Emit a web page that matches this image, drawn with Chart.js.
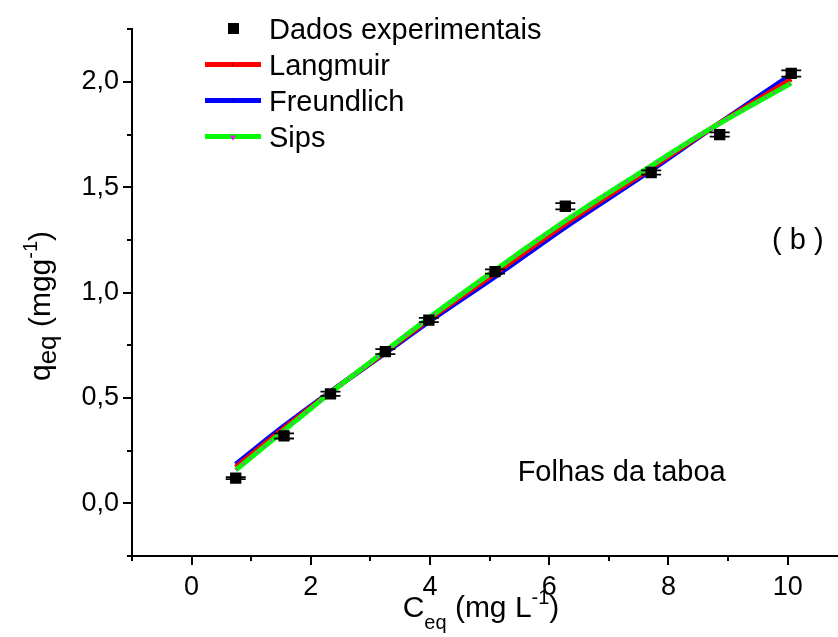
<!DOCTYPE html>
<html>
<head>
<meta charset="utf-8">
<script src="https://cdn.jsdelivr.net/npm/chart.js@4.4.0/dist/chart.umd.min.js"></script>
<style>
  html, body { margin: 0; padding: 0; background: #fff; overflow: hidden; }
  #wrap { width: 838px; height: 637px; overflow: hidden; position: relative; }
  canvas { display: block; }
</style>
</head>
<body>
<div id="wrap"><canvas id="c" width="838" height="637"></canvas></div>
<script>
// Experimental equilibrium data (C_eq in mg/L, q_eq in mg/g) with error
const ceqData = [0.74, 1.55, 2.33, 3.25, 3.98, 5.09, 6.27, 7.71, 8.86, 10.06];
const qeqData = [0.12, 0.32, 0.52, 0.72, 0.87, 1.10, 1.41, 1.57, 1.75, 2.04];
const qeqErr  = [0.005, 0.012, 0.01, 0.012, 0.01, 0.01, 0.015, 0.01, 0.01, 0.015];

// Fitted isotherm curves
const fitC        = [0.74, 1.55, 2.33, 3.25, 3.98, 5.09, 6.27, 7.71, 8.6, 10.06];
const langmuirQ   = [0.172, 0.357, 0.528, 0.719, 0.872, 1.091, 1.326, 1.591, 1.758, 2.013];
const freundlichQ = [0.186, 0.367, 0.530, 0.714, 0.862, 1.076, 1.311, 1.581, 1.755, 2.035];
const sipsQ       = [0.158, 0.346, 0.525, 0.724, 0.880, 1.107, 1.341, 1.602, 1.760, 1.994];

// Axis ticks (the x axis runs on past the right edge of the figure)
const xMin = -1, xMax = 10.71;
const xTicks = [-1, 0, 1, 2, 3, 4, 5, 6, 7, 8, 9, 10];
const xLabelTicks = [0, 2, 4, 6, 8, 10];
const yTicks = [-0.25, 0, 0.25, 0.5, 0.75, 1.0, 1.25, 1.5, 1.75, 2.0, 2.25];
const yLabelTicks = [0, 0.5, 1.0, 1.5, 2.0];

const seriesLabels = ['Dados experimentais', 'Langmuir', 'Freundlich', 'Sips'];
const FONT = "'Liberation Sans', Arial, sans-serif";

const pts = (xs, ys) => xs.map((x, i) => ({ x: x, y: ys[i] }));
const isIn = (arr, v) => arr.some(t => Math.abs(t - v) < 1e-6);

// Ticks drawn outward, long for labelled values and short otherwise;
// the bottom axis line is carried on to the edge of the canvas
const tickPlugin = {
  id: 'axisTicks',
  afterDraw(chart) {
    const ctx = chart.ctx, xs = chart.scales.x, ys = chart.scales.y;
    const area = chart.chartArea;
    ctx.save();
    ctx.strokeStyle = '#000';
    ctx.lineWidth = 2;
    ctx.beginPath();
    const yb = Math.round(area.bottom);
    ctx.moveTo(area.right - 1, yb);
    ctx.lineTo(chart.width, yb);
    xTicks.forEach(v => {
      const px = Math.round(xs.getPixelForValue(v));
      const len = isIn(xLabelTicks, v) ? 9 : 5;
      ctx.moveTo(px, area.bottom);
      ctx.lineTo(px, area.bottom + len);
    });
    yTicks.forEach(v => {
      const py = Math.round(ys.getPixelForValue(v));
      const len = isIn(yLabelTicks, v) ? 9 : 5;
      ctx.moveTo(area.left, py);
      ctx.lineTo(area.left - len, py);
    });
    ctx.stroke();
    ctx.restore();
  }
};

// Vertical error bars with caps on the experimental points
const errorBarPlugin = {
  id: 'errorBars',
  afterDatasetsDraw(chart) {
    const ctx = chart.ctx, xs = chart.scales.x, ys = chart.scales.y;
    ctx.save();
    ctx.strokeStyle = '#000';
    ctx.lineWidth = 1.8;
    ceqData.forEach((c, i) => {
      const px = xs.getPixelForValue(c);
      const top = ys.getPixelForValue(qeqData[i] + qeqErr[i]);
      const bot = ys.getPixelForValue(qeqData[i] - qeqErr[i]);
      ctx.beginPath();
      ctx.moveTo(px, top); ctx.lineTo(px, bot);
      ctx.moveTo(px - 10, top); ctx.lineTo(px + 10, top);
      ctx.moveTo(px - 10, bot); ctx.lineTo(px + 10, bot);
      ctx.stroke();
    });
    ctx.restore();
  }
};

// Legend in the upper-left corner of the plot, titles with sub/superscripts, and notes
const decorPlugin = {
  id: 'decor',
  afterDraw(chart) {
    const ctx = chart.ctx, xs = chart.scales.x, ys = chart.scales.y;
    ctx.save();
    ctx.fillStyle = '#000';
    ctx.textBaseline = 'alphabetic';

    // legend
    const lx0 = 205, lx1 = 261, tx = 269;
    const rows = [28.5, 64.5, 100.5, 136.5];
    const fs = 29;
    ctx.font = fs + 'px ' + FONT;
    // experimental points
    ctx.fillRect(228, rows[0] - 5.5, 11, 11);
    const lineColors = ['#ff0000', '#0000ff', '#00ff00'];
    for (let k = 0; k < 3; k++) {
      const y = rows[k + 1];
      ctx.strokeStyle = lineColors[k];
      ctx.lineWidth = 5;
      ctx.beginPath(); ctx.moveTo(lx0, y); ctx.lineTo(lx1, y); ctx.stroke();
    }
    // tiny markers on the legend lines
    ctx.fillStyle = '#b00000'; ctx.fillRect(232, rows[1] - 2, 1.5, 4);
    ctx.fillStyle = '#000080'; ctx.fillRect(232, rows[2] - 1, 1.5, 2);
    ctx.fillStyle = '#e020e0';
    ctx.beginPath();
    ctx.moveTo(229.5, rows[3] - 1); ctx.lineTo(236.5, rows[3] - 1); ctx.lineTo(233, rows[3] + 4);
    ctx.closePath(); ctx.fill();

    ctx.fillStyle = '#000';
    seriesLabels.forEach((s, i) => ctx.fillText(s, tx, rows[i] + fs * 0.36));

    // annotations placed in data coordinates
    ctx.font = '29px ' + FONT;
    ctx.fillText('Folhas da taboa', xs.getPixelForValue(5.47), ys.getPixelForValue(0.155) + 10);
    ctx.textAlign = 'center';
    ctx.fillText('( b )', xs.getPixelForValue(10.17), ys.getPixelForValue(1.255) + 10);
    ctx.textAlign = 'left';

    // x title: C_eq (mg L^-1)
    const big = '30px ' + FONT, small = '20px ' + FONT;
    const partsX = [
      { t: 'C', f: big, dy: 0 },
      { t: 'eq', f: small, dy: 12 },
      { t: ' (mg L', f: big, dy: 0 },
      { t: '-1', f: small, dy: -13 },
      { t: ')', f: big, dy: 0 }
    ];
    let w = 0;
    partsX.forEach(p => { ctx.font = p.f; p.w = ctx.measureText(p.t).width; w += p.w; });
    let x = 481 - w / 2;
    const baseX = 617;
    partsX.forEach(p => { ctx.font = p.f; ctx.fillText(p.t, x, baseX + p.dy); x += p.w; });

    // y title: q_eq (mgg^-1), rotated
    const partsY = [
      { t: 'q', f: big, dy: 0 },
      { t: 'eq', f: '26px ' + FONT, dy: 6 },
      { t: ' (mgg', f: big, dy: 0 },
      { t: '-1', f: small, dy: -13 },
      { t: ')', f: big, dy: 0 }
    ];
    w = 0;
    partsY.forEach(p => { ctx.font = p.f; p.w = ctx.measureText(p.t).width; w += p.w; });
    ctx.translate(50, 306);
    ctx.rotate(-Math.PI / 2);
    x = -w / 2;
    partsY.forEach(p => { ctx.font = p.f; ctx.fillText(p.t, x, p.dy); x += p.w; });
    ctx.restore();
  }
};

new Chart(document.getElementById('c'), {
  type: 'scatter',
  data: {
    datasets: [
      {
        label: seriesLabels[0],
        data: pts(ceqData, qeqData),
        pointStyle: 'rect',
        pointRadius: 8,
        backgroundColor: '#000',
        borderColor: '#000',
        borderWidth: 0,
        showLine: false,
        order: 0
      },
      {
        label: seriesLabels[3] + ' marks',
        data: pts(fitC, sipsQ),
        showLine: true,
        borderColor: 'rgba(225,60,225,0.9)',
        borderWidth: 2,
        borderDash: [2, 7],
        pointRadius: 0,
        cubicInterpolationMode: 'monotone',
        order: 1
      },
      {
        label: seriesLabels[3],
        data: pts(fitC, sipsQ),
        showLine: true,
        borderColor: '#00ff00',
        borderWidth: 5,
        pointRadius: 0,
        cubicInterpolationMode: 'monotone',
        order: 2
      },
      {
        label: seriesLabels[1],
        data: pts(fitC, langmuirQ),
        showLine: true,
        borderColor: '#ff0000',
        borderWidth: 5,
        pointRadius: 0,
        cubicInterpolationMode: 'monotone',
        order: 3
      },
      {
        label: seriesLabels[2],
        data: pts(fitC, freundlichQ),
        showLine: true,
        borderColor: '#0000ff',
        borderWidth: 5,
        pointRadius: 0,
        cubicInterpolationMode: 'monotone',
        order: 4
      }
    ]
  },
  options: {
    responsive: false,
    animation: false,
    devicePixelRatio: 1,
    layout: { padding: { left: 0, top: 28, right: 0, bottom: 0 } },
    plugins: { legend: { display: false }, tooltip: { enabled: false } },
    scales: {
      x: {
        type: 'linear',
        min: xMin, max: xMax,
        afterBuildTicks: s => { s.ticks = xTicks.map(v => ({ value: v })); },
        afterFit: s => { s.height = 80.9; },
        grid: { display: true, drawOnChartArea: false, drawTicks: false },
        border: { display: true, color: '#000', width: 2 },
        ticks: {
          color: '#000',
          font: { family: FONT, size: 27 },
          padding: 15,
          maxRotation: 0,
          autoSkip: false,
          callback: v => isIn(xLabelTicks, v) ? String(v) : ''
        }
      },
      y: {
        type: 'linear',
        min: -0.25, max: 2.25,
        afterBuildTicks: s => { s.ticks = yTicks.map(v => ({ value: v })); },
        afterFit: s => { s.width = 132; },
        grid: { display: true, drawOnChartArea: false, drawTicks: false },
        border: { display: true, color: '#000', width: 2 },
        ticks: {
          color: '#000',
          font: { family: FONT, size: 27 },
          padding: 13,
          autoSkip: false,
          callback: v => isIn(yLabelTicks, v) ? v.toFixed(1).replace('.', ',') : ''
        }
      }
    }
  },
  plugins: [tickPlugin, errorBarPlugin, decorPlugin]
});
</script>
</body>
</html>
